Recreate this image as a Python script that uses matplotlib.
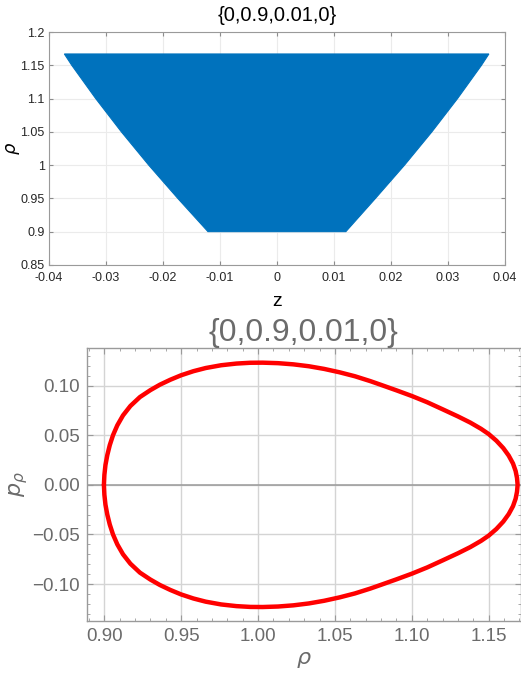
import matplotlib
matplotlib.use("Agg")
import matplotlib.pyplot as plt
from matplotlib.ticker import MultipleLocator

# --- top panel: envelope of the (z, rho) trajectory ---
env_rho = [1.167, 1.150, 1.100, 1.050, 1.000, 0.950, 0.900]
env_z_left = [-0.0373, -0.0360, -0.0318, -0.0273, -0.0225, -0.0174, -0.0121]
env_z_right = [0.0372, 0.0359, 0.0317, 0.0272, 0.0224, 0.0173, 0.0121]

top_xticks = [-0.04, -0.03, -0.02, -0.01, 0, 0.01, 0.02, 0.03, 0.04]
top_xlabels = ["-0.04", "-0.03", "-0.02", "-0.01", "0", "0.01", "0.02", "0.03", "0.04"]
top_yticks = [0.85, 0.9, 0.95, 1.0, 1.05, 1.1, 1.15, 1.2]
top_ylabels = ["0.85", "0.9", "0.95", "1", "1.05", "1.1", "1.15", "1.2"]

# --- bottom panel: phase portrait (rho, p_rho) ---
rho_upper = [0.8998, 0.9001, 0.9008, 0.9020, 0.9036, 0.9057, 0.9085, 0.9122,
             0.9170, 0.9232, 0.9300, 0.9362, 0.9430, 0.9500, 0.9580, 0.9660,
             0.9760, 0.9860, 0.9950, 1.0030, 1.0130, 1.0230, 1.0330, 1.0430,
             1.0530, 1.0630, 1.0730, 1.0800, 1.0900, 1.1000, 1.1100, 1.1200,
             1.1300, 1.1380, 1.1450, 1.1500, 1.1550, 1.1595, 1.1630, 1.1658,
             1.1675, 1.1684, 1.1688]
p_upper = [0.0000, 0.0100, 0.0200, 0.0300, 0.0400, 0.0500, 0.0600, 0.0700,
           0.0795, 0.0885, 0.0955, 0.1010, 0.1060, 0.1105, 0.1146, 0.1178,
           0.1206, 0.1223, 0.1231, 0.1232, 0.1227, 0.1215, 0.1196, 0.1169,
           0.1135, 0.1095, 0.1046, 0.1008, 0.0953, 0.0896, 0.0833, 0.0762,
           0.0690, 0.0628, 0.0565, 0.0512, 0.0445, 0.0370, 0.0295, 0.0215,
           0.0140, 0.0070, 0.0000]
rho_lower = [1.1688, 1.1684, 1.1675, 1.1658, 1.1630, 1.1595, 1.1550, 1.1500,
             1.1450, 1.1380, 1.1300, 1.1200, 1.1100, 1.1000, 1.0900, 1.0800,
             1.0730, 1.0630, 1.0530, 1.0430, 1.0330, 1.0230, 1.0130, 1.0030,
             0.9950, 0.9860, 0.9760, 0.9660, 0.9580, 0.9500, 0.9430, 0.9362,
             0.9300, 0.9232, 0.9170, 0.9122, 0.9085, 0.9057, 0.9036, 0.9020,
             0.9008, 0.9001, 0.8998]
p_lower = [-0.0000, -0.0070, -0.0140, -0.0215, -0.0295, -0.0370, -0.0445, -0.0512,
           -0.0565, -0.0628, -0.0690, -0.0762, -0.0833, -0.0896, -0.0953, -0.1008,
           -0.1046, -0.1095, -0.1135, -0.1169, -0.1196, -0.1215, -0.1227, -0.1232,
           -0.1231, -0.1223, -0.1206, -0.1178, -0.1146, -0.1105, -0.1060, -0.1010,
           -0.0955, -0.0885, -0.0795, -0.0700, -0.0600, -0.0500, -0.0400, -0.0300,
           -0.0200, -0.0100, 0.0000]

title = "{0,0.9,0.01,0}"

plt.rcParams['font.family'] = ['Liberation Sans', 'DejaVu Sans']

fig = plt.figure(figsize=(5.21, 6.81), dpi=100)

# MATLAB-like top panel
ax1 = fig.add_axes([0.094, 0.611, 0.875, 0.342])
poly_z = env_z_left + env_z_right[::-1]
poly_rho = env_rho + env_rho[::-1]
ax1.fill(poly_z, poly_rho, color='#0072BD', lw=0.8, edgecolor='#0072BD', zorder=3)
ax1.set_xlim(-0.04, 0.04)
ax1.set_ylim(0.85, 1.2)
ax1.set_xticks(top_xticks)
ax1.set_xticklabels(top_xlabels)
ax1.set_yticks(top_yticks)
ax1.set_yticklabels(top_ylabels)
ax1.grid(True, color='#ebebeb', lw=0.8, zorder=0)
ax1.tick_params(direction='in', length=3, color='#8c8c8c', labelcolor='#262626',
                labelsize=9, top=True, right=True)
ax1.tick_params(axis='x', pad=5)
ax1.tick_params(axis='y', pad=3)
for s in ax1.spines.values():
    s.set_color('#9a9a9a')
    s.set_linewidth(0.8)
ax1.set_title(title, fontsize=14.5, color='black', pad=8)
ax1.set_xlabel('z', fontsize=14)
ax1.xaxis.set_label_coords(0.5, -0.12)
ax1.set_ylabel(r'$\rho$', fontsize=13)
ax1.yaxis.set_label_coords(-0.06, 0.5)

# Mathematica-like bottom panel
gray = '#6b6b6b'
ax2 = fig.add_axes([0.1664, 0.0881, 0.8336, 0.4009])
ax2.plot(rho_upper + rho_lower, p_upper + p_lower, color='#ff0000', lw=3.2,
         solid_joinstyle='round', solid_capstyle='round', zorder=4)
ax2.axhline(0, color='#9a9a9a', lw=1.1, zorder=2)
ax2.set_xlim(0.8886, 1.171)
ax2.set_ylim(-0.1373, 0.138)
ax2.xaxis.set_major_locator(MultipleLocator(0.05))
ax2.xaxis.set_minor_locator(MultipleLocator(0.01))
ax2.yaxis.set_major_locator(MultipleLocator(0.05))
ax2.yaxis.set_minor_locator(MultipleLocator(0.01))
ax2.xaxis.set_major_formatter(plt.FuncFormatter(lambda v, pos: f"{v:.2f}"))
ax2.yaxis.set_major_formatter(plt.FuncFormatter(
    lambda v, pos: f"{v:.2f}".replace('-', '\u2212') if abs(v) > 1e-9 else "0.00"))
ax2.grid(True, which='major', color='#d4d4d4', lw=1.0, zorder=1)
ax2.tick_params(which='both', direction='in', color='#9a9a9a', labelcolor=gray,
                labelsize=13.5, top=True, right=True, pad=5)
ax2.tick_params(which='major', length=4)
ax2.tick_params(which='minor', length=2.2)
for s in ax2.spines.values():
    s.set_color('#9a9a9a')
    s.set_linewidth(1.0)
ax2.set_title(title, fontsize=23, color=gray, pad=3)
ax2.set_xlabel(r'$\rho$', fontsize=16, color=gray, labelpad=3)
ax2.set_ylabel(r'$p_\rho$', fontsize=16, color=gray)
ax2.yaxis.set_label_coords(-0.13, 0.5)

fig.savefig('out.png', dpi=100)
